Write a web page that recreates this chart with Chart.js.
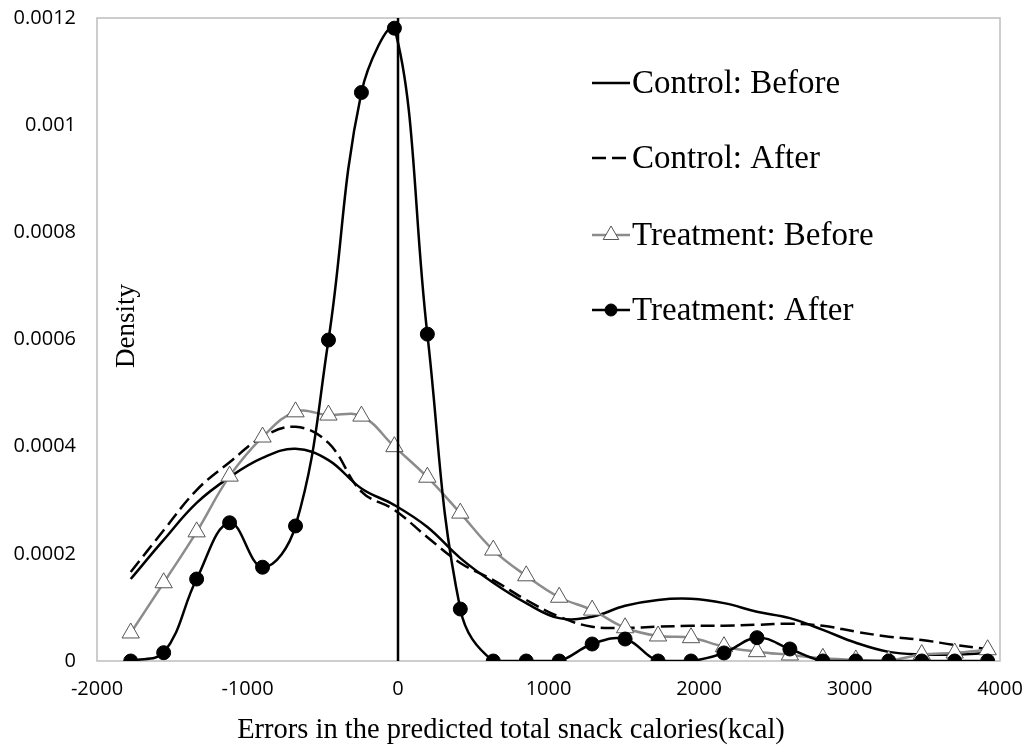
<!DOCTYPE html>
<html>
<head>
<meta charset="utf-8">
<script src="https://cdn.jsdelivr.net/npm/chart.js@4.4.1/dist/chart.umd.min.js"></script>
<style>
  html, body { margin: 0; padding: 0; background: #fff; }
  #wrap { width: 1025px; height: 753px; }
</style>
</head>
<body>
<div id="wrap"><canvas id="chart" width="1025" height="753"></canvas></div>
<script>
// x positions (kcal) where the densities were evaluated
const xPoints = [-1776, -1557, -1338, -1119, -900, -681, -462, -243, -24, 195, 414, 633, 852,
  1071, 1290, 1509, 1728, 1947, 2166, 2385, 2604, 2823, 3042, 3261, 3480, 3699, 3918];

const controlBefore = [0.000153, 0.000226, 0.000295, 0.000343, 0.000379, 0.000396, 0.000375, 0.000322,
  0.000291, 0.00025, 0.000192, 0.000146, 0.000108, 0.00008, 0.0000827, 0.000103, 0.000114, 0.000116,
  0.000108, 0.000092, 0.00008, 0.000058, 0.000034, 0.000017, 0.000012, 0.000012, 0.000015];

const controlAfter = [0.000166, 0.000244, 0.000319, 0.000371, 0.000418, 0.000437, 0.000407, 0.000316,
  0.000282, 0.000231, 0.000183, 0.000151, 0.000114, 0.0000827, 0.000064, 0.000062, 0.000064, 0.0000657,
  0.0000657, 0.0000676, 0.0000695, 0.0000657, 0.0000547, 0.0000454, 0.0000392, 0.00003, 0.0000224];

const treatmentBefore = [0.0000523, 0.000146, 0.000241, 0.000345, 0.000418, 0.000465, 0.000459, 0.000457,
  0.0004, 0.000343, 0.000276, 0.000207, 0.000159, 0.000119, 0.000095, 0.000062, 0.0000467, 0.0000435,
  0.0000267, 0.0000174, 0.0000112, 0.000005, 0.000002, 0.000001, 0.000012, 0.000015, 0.000021];

const treatmentAfter = [0, 0.0000155, 0.000153, 0.000258, 0.000175, 0.000252, 0.000599, 0.001061,
  0.001181, 0.00061, 0.000097, 0, 0, 0, 0.0000317, 0.000041, 0, 0, 0.000015, 0.0000435, 0.0000224,
  0, 0, 0, 0, 0, 0];

// vertical reference line at zero error
const zeroLineX = [0, 0];
const zeroLineY = [0, 0.0012];

const seriesNames = ['Control: Before', 'Control: After', 'Treatment: Before', 'Treatment: After'];
const xTitle = 'Errors in the predicted total snack calories(kcal)';
const yTitle = 'Density';

const serif = "'Liberation Serif', 'Times New Roman', serif";
const sans = "'Open Sans', 'Liberation Sans', sans-serif";

function pts(xs, ys) {
  return xs.map((x, i) => ({ x: x, y: ys[i] }));
}

// plot frame + axis titles (y title sits inside the plot, x title a bit left of centre)
const framePlugin = {
  id: 'frame',
  beforeDatasetsDraw(chart) {
    const { ctx, chartArea: a } = chart;
    ctx.save();
    ctx.strokeStyle = '#bdbdbd';
    ctx.lineWidth = 1.5;
    ctx.strokeRect(a.left, a.top, a.right - a.left, a.bottom - a.top);
    ctx.restore();
  },
  afterDraw(chart) {
    const { ctx, chartArea: a } = chart;
    ctx.save();
    ctx.fillStyle = '#000';
    ctx.textAlign = 'center';
    ctx.textBaseline = 'middle';
    ctx.font = '28.5px ' + serif;
    ctx.fillText(xTitle, a.left + 414, 731);
    ctx.font = '27px ' + serif;
    ctx.translate(a.left + 30, 326);
    ctx.rotate(-Math.PI / 2);
    ctx.fillText(yTitle, 0, 0);
    ctx.restore();
  }
};

// legend sits inside the plot, top right
const legendPlugin = {
  id: 'insideLegend',
  afterDraw(chart) {
    const { ctx, chartArea: a } = chart;
    const x0 = a.left + 495, x1 = a.left + 533, rows = [83, 158, 235, 310];
    ctx.save();
    chart.data.datasets.slice(0, 4).forEach((ds, i) => {
      const y = rows[i];
      ctx.strokeStyle = ds.borderColor;
      ctx.lineWidth = ds.borderWidth;
      ctx.setLineDash(ds.borderDash || []);
      ctx.beginPath();
      ctx.moveTo(x0, y);
      ctx.lineTo(x1, y);
      ctx.stroke();
      ctx.setLineDash([]);
      if (ds.pointRadius > 0) {
        ctx.fillStyle = ds.pointBackgroundColor;
        ctx.strokeStyle = ds.pointBorderColor;
        ctx.lineWidth = ds.pointBorderWidth;
        Chart.helpers.drawPoint(ctx, {
          pointStyle: ds.pointStyle, radius: ds.pointRadius - 1, rotation: 0, borderWidth: ds.pointBorderWidth
        }, (x0 + x1) / 2, y);
      }
      ctx.fillStyle = '#000';
      ctx.font = '33px ' + serif;
      ctx.textAlign = 'left';
      ctx.textBaseline = 'middle';
      ctx.fillText(seriesNames[i], x1 + 2, y + 1);
    });
    ctx.restore();
  }
};

new Chart(document.getElementById('chart'), {
  type: 'line',
  data: {
    datasets: [
      {
        label: seriesNames[0],
        data: pts(xPoints, controlBefore),
        borderColor: '#000', borderWidth: 2.5, pointRadius: 0, tension: 0.4, order: 3
      },
      {
        label: seriesNames[1],
        data: pts(xPoints, controlAfter),
        borderColor: '#000', borderWidth: 2.5, borderDash: [14, 6], pointRadius: 0, tension: 0.4, order: 4
      },
      {
        label: seriesNames[2],
        data: pts(xPoints, treatmentBefore),
        borderColor: '#8c8c8c', borderWidth: 2.5, tension: 0.4,
        pointStyle: 'triangle', pointRadius: 10, pointBackgroundColor: '#fff',
        pointBorderColor: '#555', pointBorderWidth: 1, order: 2
      },
      {
        label: seriesNames[3],
        data: pts(xPoints, treatmentAfter),
        borderColor: '#000', borderWidth: 2.5, tension: 0.4,
        pointStyle: 'circle', pointRadius: 7, pointBackgroundColor: '#000',
        pointBorderColor: '#000', pointBorderWidth: 1, order: 1
      },
      {
        label: 'zero',
        data: pts(zeroLineX, zeroLineY),
        borderColor: '#000', borderWidth: 2.5, pointRadius: 0, tension: 0, order: 0
      }
    ]
  },
  options: {
    responsive: false,
    animation: false,
    layout: { padding: { top: 18, right: 25, left: 0, bottom: 0 } },
    plugins: { legend: { display: false }, tooltip: { enabled: false } },
    scales: {
      x: {
        type: 'linear',
        min: -2000, max: 4000,
        grid: { display: false, drawTicks: false },
        border: { display: false },
        ticks: {
          stepSize: 1000, padding: 16, color: '#000', font: { family: sans, size: 20 },
          callback: v => String(v)
        },
        afterFit(scale) {
          scale.height = 92;
          scale.paddingLeft = 0;
          scale.paddingRight = 0;
        }
      },
      y: {
        min: 0, max: 0.0012,
        grid: { display: false, drawTicks: false },
        border: { display: false },
        ticks: {
          stepSize: 0.0002, padding: 21, color: '#000', font: { family: sans, size: 20 },
          callback: v => String(Number(v.toFixed(4)))
        },
        afterFit(scale) {
          scale.width = 97;
          scale.paddingTop = 0;
          scale.paddingBottom = 0;
        }
      }
    }
  },
  plugins: [framePlugin, legendPlugin]
});
</script>
</body>
</html>
